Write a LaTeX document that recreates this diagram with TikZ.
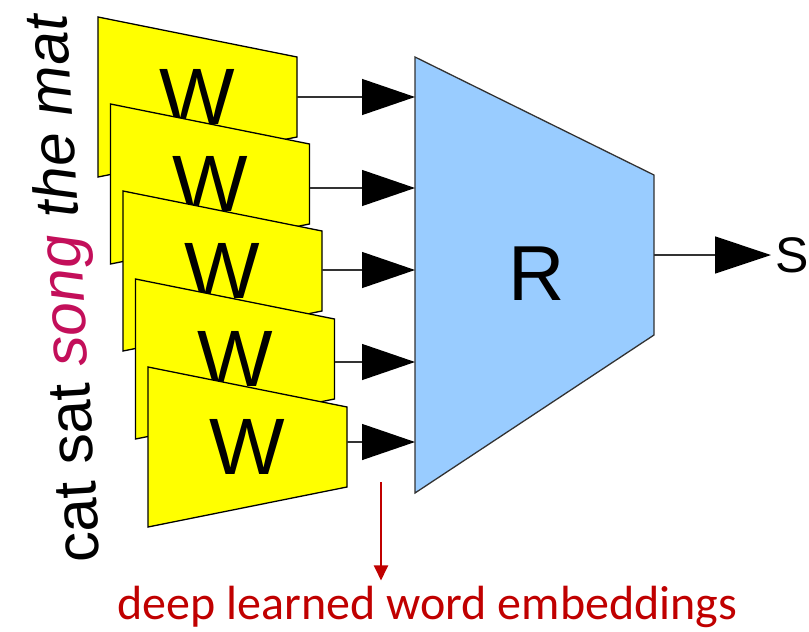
\documentclass[tikz,border=0pt]{standalone}
\usepackage{fontspec}
\setmainfont{Liberation Sans}
\newfontfamily\calibrifont{Carlito}
\usetikzlibrary{arrows.meta}
\definecolor{wyellow}{RGB}{255,255,0}
\definecolor{rblue}{RGB}{153,204,255}
\definecolor{darkred}{RGB}{192,0,0}
\definecolor{songred}{RGB}{195,15,90}
\definecolor{edgegray}{RGB}{50,50,50}
\begin{document}
\begin{tikzpicture}[x=1pt,y=-1pt,
  wbox/.style={fill=wyellow,draw=black,line width=1.3pt,line join=miter},
  rbox/.style={fill=rblue,draw=edgegray,line width=1.3pt},
  feed/.style={draw=edgegray,line width=1.3pt,-{Triangle[length=53pt,width=36pt,color=black]}},
  letter/.style={inner sep=0pt,font=\fontsize{80}{80}\selectfont}]
\useasboundingbox (0,0) rectangle (809,632);

% word trapezoids W
\foreach \i/\yc/\ya in {1/97/97, 2/184/188, 3/271/270, 4/359/362, 5/447/442} {
  \pgfmathsetmacro\xl{98+12.5*(\i-1)}
  \draw[wbox] (\xl,\yc-80) -- (\xl+199,\yc-40) -- (\xl+199,\yc+40) -- (\xl,\yc+80) -- cycle;
  \node[letter] (w\i) at (\xl+99.5,\yc) {W};
  \coordinate (e\i) at (\xl+199,\ya);
  \coordinate (r\i) at (415,\ya);
}

% R trapezoid
\draw[rbox] (415,57) -- (654,175) -- (654,335) -- (415,493) -- cycle;
\node[inner sep=0pt,font=\fontsize{78}{78}\selectfont] (R) at (537,274) {R};
\coordinate (ro) at (654,255);

\foreach \i in {1,...,5} \draw[feed] (e\i) -- (r\i);

% output
\node[inner sep=0pt,anchor=west,font=\fontsize{50}{50}\selectfont] (S) at (775,255) {S};
\draw[edgegray,line width=1.3pt,-{Triangle[length=56pt,width=37pt,color=black]},shorten >=4pt] (ro) -- (S.west);

% words (slightly tilted line)
\node[rotate=93.5,anchor=base west,inner sep=0pt,font=\fontsize{61}{61}\selectfont] (words) at (100,562)
  {cat sat \textcolor{songred}{\itshape song} {\itshape the mat}};

% caption
\node[anchor=base,inner sep=0pt,text=darkred,font=\calibrifont\fontsize{48}{48}\selectfont] (cap) at (427.5,619) {deep learned word embeddings};
\coordinate (ap) at (381,482);
\draw[darkred,line width=2pt,-{Triangle[length=15pt,width=14pt]},shorten >=5pt] (ap) -- (ap |- cap.north);
\end{tikzpicture}
\end{document}
